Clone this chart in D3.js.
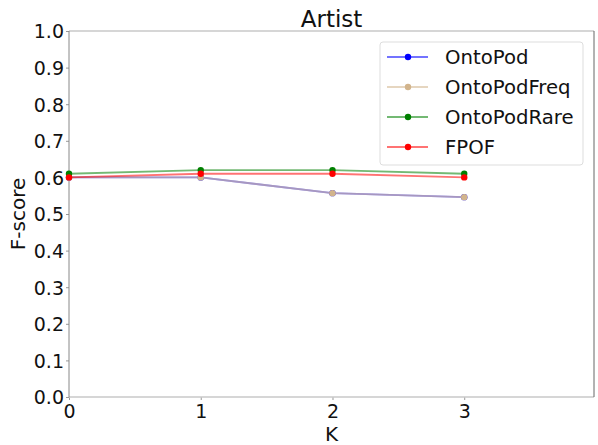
<!DOCTYPE html>
<html>
<head>
<meta charset="utf-8">
<script src="https://cdn.jsdelivr.net/npm/d3@7"></script>
<style>
  html, body { margin: 0; padding: 0; background: #fff; }
  svg { display: block; font-family: "DejaVu Sans", sans-serif; }
</style>
</head>
<body>
<svg id="chart" width="598" height="445"></svg>
<script>
const kValues = [0, 1, 2, 3];
const seriesNames = ["OntoPod", "OntoPodFreq", "OntoPodRare", "FPOF"];
const seriesColors = ["#0000ff", "#d2b48c", "#008000", "#ff0000"];
const ontoPod = [0.600, 0.600, 0.557, 0.546];
const ontoPodFreq = [0.600, 0.600, 0.557, 0.546];
const ontoPodRare = [0.610, 0.620, 0.620, 0.610];
const fpof = [0.600, 0.610, 0.610, 0.600];
const xTicks = [0, 1, 2, 3];
const yTicks = [0.0, 0.1, 0.2, 0.3, 0.4, 0.5, 0.6, 0.7, 0.8, 0.9, 1.0];
const titleText = "Artist";
const xLabel = "K";
const yLabel = "F-score";

const seriesValues = [ontoPod, ontoPodFreq, ontoPodRare, fpof];

(function () {
const svg = d3.select("#chart");
const pL = 69, pR = 594, pT = 31, pB = 397;

const x = d3.scaleLinear().domain([0, 3.985]).range([pL, pR]);
const y = d3.scaleLinear().domain([0, 1]).range([pB, pT]);

// Axes
const xAxis = svg.append("g").attr("transform", `translate(0,${pB})`)
  .call(d3.axisBottom(x).tickValues(xTicks).tickFormat(d3.format("d")).tickSize(3).tickPadding(1));
const yAxis = svg.append("g").attr("transform", `translate(${pL},0)`)
  .call(d3.axisLeft(y).tickValues(yTicks).tickFormat(d3.format(".1f")).tickSize(3).tickPadding(2));
[xAxis, yAxis].forEach(g => {
  g.select(".domain").remove();
  g.selectAll(".tick line").attr("stroke", "#999");
  g.selectAll(".tick text").attr("fill", "#111").style("font-size", "19px").style("font-family", "DejaVu Sans, sans-serif");
});
xAxis.selectAll(".tick text").attr("dy", "0.9em");
yAxis.selectAll(".tick text").attr("dy", "0.36em");

// Spines
svg.append("line").attr("x1", pL).attr("x2", pR).attr("y1", pT).attr("y2", pT).attr("stroke", "#c8c8c8").attr("stroke-width", 1.5);
svg.append("line").attr("x1", pL).attr("x2", pR).attr("y1", pB).attr("y2", pB).attr("stroke", "#c8c8c8").attr("stroke-width", 1.5);
svg.append("line").attr("x1", pL).attr("x2", pL).attr("y1", pT).attr("y2", pB).attr("stroke", "#888").attr("stroke-width", 1);
svg.append("line").attr("x1", pR).attr("x2", pR).attr("y1", pT).attr("y2", pB).attr("stroke", "#666").attr("stroke-width", 1);

// Lines
const line = d3.line().x((d, i) => x(kValues[i])).y(d => y(d));
seriesValues.forEach((vals, si) => {
  svg.append("path").datum(vals).attr("d", line)
    .attr("fill", "none").attr("stroke", seriesColors[si])
    .attr("stroke-width", 1.8).attr("stroke-opacity", 0.55);
  svg.selectAll(null).data(vals).enter().append("circle")
    .attr("cx", (d, i) => x(kValues[i])).attr("cy", d => y(d))
    .attr("r", 3.2).attr("fill", seriesColors[si]);
});

// Title and labels
svg.append("text").attr("x", (pL + pR) / 2).attr("y", 26.5).attr("text-anchor", "middle")
  .style("font-size", "23px").attr("fill", "#111").text(titleText);
svg.append("text").attr("x", (pL + pR) / 2).attr("y", 441).attr("text-anchor", "middle")
  .style("font-size", "20px").attr("fill", "#111").text(xLabel);
svg.append("text").attr("transform", `translate(25,${(pT + pB) / 2}) rotate(-90)`).attr("text-anchor", "middle")
  .style("font-size", "20px").attr("fill", "#111").text(yLabel);

// Legend
const lg = svg.append("g");
lg.append("rect").attr("x", 380).attr("y", 42).attr("width", 203).attr("height", 123)
  .attr("rx", 3).attr("fill", "#fff").attr("stroke", "#ddd").attr("stroke-width", 1);
seriesNames.forEach((name, i) => {
  const cy = 57 + i * 30;
  lg.append("line").attr("x1", 387).attr("x2", 428).attr("y1", cy).attr("y2", cy)
    .attr("stroke", seriesColors[i]).attr("stroke-width", 1.8).attr("stroke-opacity", 0.55);
  lg.append("circle").attr("cx", 408).attr("cy", cy).attr("r", 3.2).attr("fill", seriesColors[i]);
  lg.append("text").attr("x", 445).attr("y", cy).attr("dy", "0.36em")
    .style("font-size", "19.7px").attr("fill", "#111").text(name);
});
})();
</script>
</body>
</html>
